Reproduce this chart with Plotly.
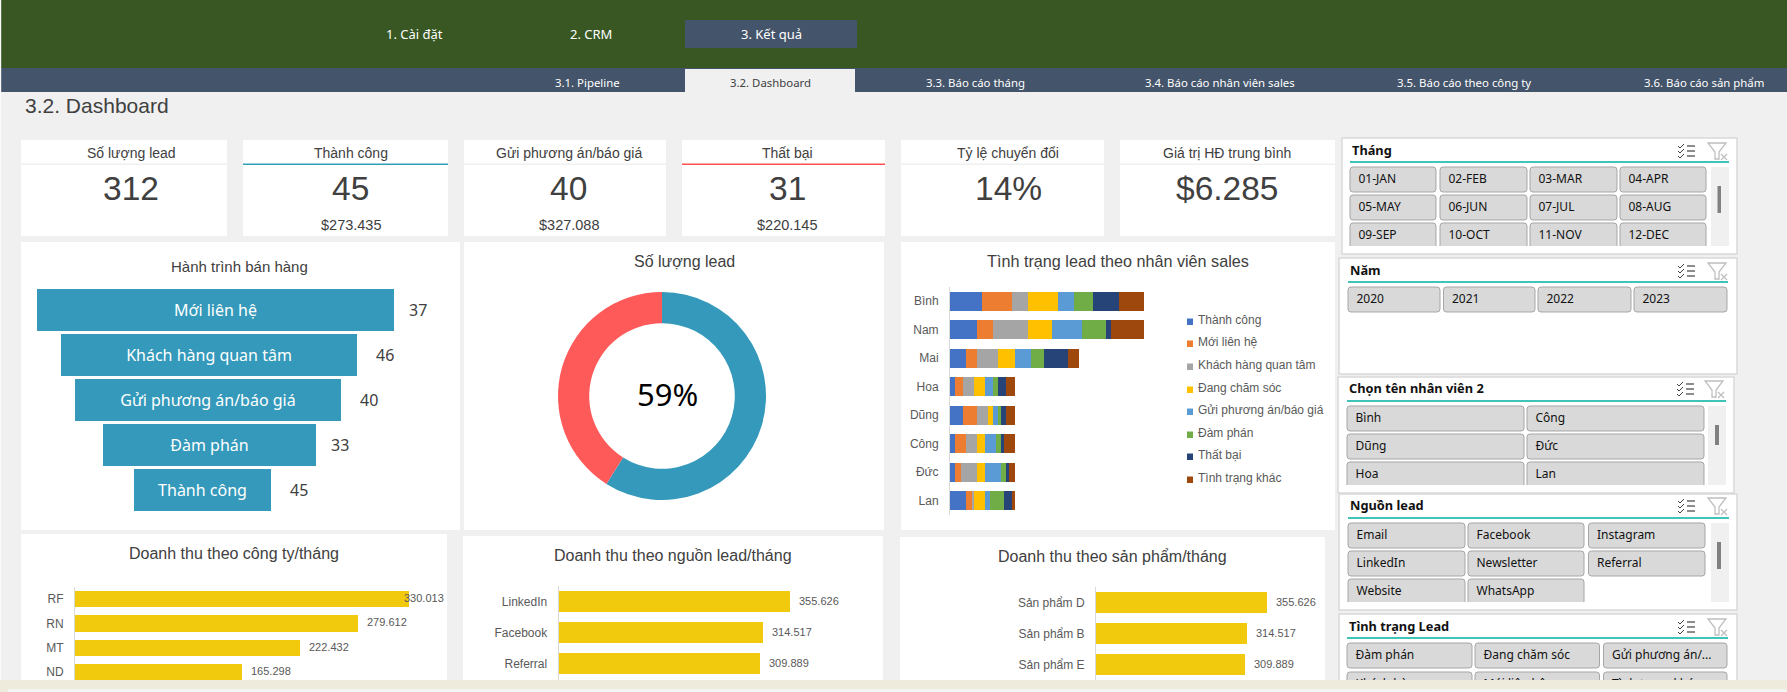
import plotly.graph_objects as go

W, H = 1787, 692

# ---------- data ----------
kpi_titles = ["Số lượng lead", "Thành công", "Gửi phương án/báo giá", "Thất bại", "Tỷ lệ chuyển đổi", "Giá trị HĐ trung bình"]
kpi_values = ["312", "45", "40", "31", "14%", "$6.285"]
kpi_subs = ["", "$273.435", "$327.088", "$220.145", "", ""]

funnel_stages = ["Mới liên hệ", "Khách hàng quan tâm", "Gửi phương án/báo giá", "Đàm phán", "Thành công"]
funnel_spacer = [0, 24, 38, 66, 97]
funnel_length = [357, 296, 266, 213, 137]
funnel_counts = [37, 46, 40, 33, 45]

donut_labels = ["Thành công", "Còn lại"]
donut_values = [184, 128]
donut_center = "59%"

staff = ["Bình", "Nam", "Mai", "Hoa", "Dũng", "Công", "Đức", "Lan"]
status_names = ["Thành công", "Mới liên hệ", "Khách hàng quan tâm", "Đang chăm sóc",
                "Gửi phương án/báo giá", "Đàm phán", "Thất bại", "Tình trạng khác"]
thanh_cong = [12, 10, 6, 2, 5, 2, 2, 6]
moi_lien_he = [11, 6, 4, 3, 5, 4, 2, 2]
khach_hang = [6, 13, 8, 4, 4, 4, 6, 1]
dang_cham_soc = [11, 9, 6, 4, 2, 3, 3, 4]
gui_phuong_an = [6, 11, 6, 3, 2, 4, 6, 2]
dam_phan = [7, 9, 5, 2, 1, 2, 2, 5]
that_bai = [10, 2, 9, 3, 2, 1, 1, 3]
tinh_trang_khac = [9, 12, 4, 3, 3, 4, 2, 1]
status_series = [thanh_cong, moi_lien_he, khach_hang, dang_cham_soc, gui_phuong_an, dam_phan, that_bai, tinh_trang_khac]

company_names = ["RF", "RN", "MT", "ND"]
company_revenue = [330013, 279612, 222432, 165298]
source_names = ["LinkedIn", "Facebook", "Referral"]
source_revenue = [355626, 314517, 309889]
product_names = ["Sản phẩm D", "Sản phẩm B", "Sản phẩm E"]
product_revenue = [355626, 314517, 309889]

months = ["01-JAN", "02-FEB", "03-MAR", "04-APR", "05-MAY", "06-JUN", "07-JUL", "08-AUG", "09-SEP", "10-OCT", "11-NOV", "12-DEC"]
years = ["2020", "2021", "2022", "2023"]
staff_sorted = ["Bình", "Công", "Dũng", "Đức", "Hoa", "Lan"]
sources = ["Email", "Facebook", "Instagram", "LinkedIn", "Newsletter", "Referral", "Website", "WhatsApp"]
statuses = ["Đàm phán", "Đang chăm sóc", "Gửi phương án/...", "Khách hàng...", "Mới liên hệ", "Tình trạng khác"]

# ---------- palette / fonts ----------
BG = "#F0F0F0"; GREEN = "#385723"; NAV = "#44546A"; TEAL = "#3499BA"; RED = "#FF5A5A"
YELLOW = "#F1C90D"; INK = "#404040"; AXT = "#595959"
SLICER_TEAL = "#00B0A0"
STATUS_COLORS = ["#4472C4", "#ED7D31", "#A5A5A5", "#FFC000", "#5B9BD5", "#70AD47", "#264478", "#9E480E"]
ARIAL = "Liberation Sans"; UI = "Noto Sans"

def X(p): return p / W
def Y(p): return 1 - p / H

shapes, annos = [], []

def rect(x0, y0, x1, y1, fill, line=None, lw=1, layer="below"):
    shapes.append(dict(type="rect", xref="paper", yref="paper", x0=X(x0), x1=X(x1), y0=Y(y1), y1=Y(y0),
                       fillcolor=fill, line=dict(color=line or "rgba(0,0,0,0)", width=lw if line else 0), layer=layer))

def path(points_d, line=None, lw=1, fill=None, layer="below"):
    shapes.append(dict(type="path", xref="paper", yref="paper", path=points_d, fillcolor=fill or "rgba(0,0,0,0)",
                       line=dict(color=line or "rgba(0,0,0,0)", width=lw), layer=layer))

def P(x, y): return f"{X(x):.6f},{Y(y):.6f}"

def text(x, y, s, size, color=INK, family=ARIAL, anchor="center", bold=False):
    annos.append(dict(xref="paper", yref="paper", x=X(x), y=Y(y), text=f"<b>{s}</b>" if bold else s, showarrow=False,
                      xanchor=anchor, yanchor="middle", font=dict(size=size, color=color, family=family)))

# ---------- header ----------
rect(0, 0, W, 68, GREEN)
rect(0, 68, W, 92, NAV)
rect(0, 0, 1.2, 692, "#FAFAFA", layer="above")
rect(685, 20, 857, 48, NAV)
rect(685, 69, 855, 92, BG)
for x, s in zip([414, 591, 771], ["1. Cài đặt", "2. CRM", "3. Kết quả"]):
    text(x, 34.5, s, 13, "white", UI)
for x, s, c in zip([587.5, 770, 975, 1220, 1464, 1704],
                   ["3.1. Pipeline", "3.2. Dashboard", "3.3. Báo cáo tháng", "3.4. Báo cáo nhân viên sales", "3.5. Báo cáo theo công ty", "3.6. Báo cáo sản phẩm"],
                   ["white", INK, "white", "white", "white", "white"]):
    text(x, 82.5, s, 11.4, c, UI)
text(23, 105, "3.2. Dashboard", 21, INK, ARIAL, anchor="left")

# ---------- KPI cards ----------
card_x = [(21, 227), (243, 448), (464, 666), (682, 885), (901, 1104), (1120, 1335)]
card_text_x = [131, 350.5, 568.5, 787, 1008, 1227]
card_line = [BG, "#2F9FB8", BG, "#FF5050", BG, BG]
for (x0, x1), xc, t, v, s, lc in zip(card_x, card_text_x, kpi_titles, kpi_values, kpi_subs, card_line):
    rect(x0, 140, x1, 236, "white")
    rect(x0, 163.5, x1, 165, lc)
    text(xc, 153, t, 14, INK)
    text(xc, 188.5, v, 33.5, INK)
    if s:
        text(xc, 225, s, 14.5, INK)

# ---------- panels ----------
rect(21, 242, 460, 530, "white")
rect(464, 242, 884, 530, "white")
rect(901, 242, 1335, 530, "white")
rect(21, 534, 447, 692, "white")
rect(463, 536, 883, 692, "white")
rect(900, 537, 1325, 692, "white")

text(240, 266, "Hành trình bán hàng", 15)
text(684, 261, "Số lượng lead", 16)
text(1118, 261, "Tình trạng lead theo nhân viên sales", 16.2)
text(234, 553, "Doanh thu theo công ty/tháng", 16)
text(673, 555, "Doanh thu theo nguồn lead/tháng", 16)
text(1112, 556, "Doanh thu theo sản phẩm/tháng", 16)

# ---------- figure and axes ----------
fig = go.Figure()
layout_axes = {}

def axes(n, x0, x1, y0, y1, xrange, yrange, show_y=True, yfont=12):
    sx = "" if n == 1 else str(n)
    layout_axes[f"xaxis{sx}"] = dict(domain=[X(x0), X(x1)], range=xrange, visible=False, anchor=f"y{sx}", fixedrange=True)
    ya = dict(domain=[Y(y1), Y(y0)], range=yrange, anchor=f"x{sx}", type="category", fixedrange=True,
              showgrid=False, zeroline=False)
    if show_y:
        ya.update(showline=True, linecolor="#D9D9D9", linewidth=1, ticks="outside", ticklen=8,
                  tickcolor="rgba(0,0,0,0)", tickfont=dict(size=yfont, color=AXT, family=ARIAL))
    else:
        ya.update(visible=False)
    layout_axes[f"yaxis{sx}"] = ya
    return f"x{sx}", f"y{sx}"

# funnel
xa, ya = axes(1, 37, 437, 287.5, 512.5, [0, 400], [4.5, -0.5], show_y=False)
fig.add_trace(go.Bar(y=funnel_stages, x=funnel_length, base=funnel_spacer, orientation="h", width=0.934,
                     marker=dict(color=TEAL, line=dict(width=0)), text=funnel_stages, textposition="inside",
                     insidetextanchor="middle", textangle=0,
                     insidetextfont=dict(size=16, color="white", family=UI), showlegend=False, xaxis=xa, yaxis=ya,
                     hoverinfo="skip"))
for st, sp, ln, ct, sh in zip(funnel_stages, funnel_spacer, funnel_length, funnel_counts, [13, 17, 17, 13, 17]):
    annos.append(dict(xref=xa, yref=ya, x=sp + ln, y=st, text=str(ct), showarrow=False, xanchor="left", xshift=sh,
                      font=dict(size=16, color=INK, family=UI)))

# donut
fig.add_trace(go.Pie(labels=donut_labels, values=donut_values, hole=0.70, sort=False, direction="clockwise", rotation=0,
                     marker=dict(colors=[TEAL, RED], line=dict(width=0)), textinfo="none", showlegend=False,
                     domain=dict(x=[X(558), X(766)], y=[Y(500), Y(292)]), hoverinfo="skip"))
text(667, 394, donut_center, 31, "black", UI)

# stacked status bars
PX_PER_LEAD = 2.69
xa, ya = axes(2, 950, 950 + 76 * PX_PER_LEAD, 287, 515, [0, 76], [7.5, -0.5])
for name, series, color in zip(status_names, status_series, STATUS_COLORS):
    fig.add_trace(go.Bar(y=staff, x=series, name=name, orientation="h", width=0.667, marker=dict(color=color, line=dict(width=0)),
                         showlegend=False, xaxis=xa, yaxis=ya, hoverinfo="skip"))
for name, color, yc in zip(status_names, STATUS_COLORS, [321, 343, 366, 389, 411, 434, 456, 479]):
    rect(1187, yc - 2.5, 1193, yc + 4, color)
    text(1196, yc - 1, name, 12, AXT, ARIAL, anchor="left")

# revenue bars
def revenue(n, names, values, axis_x, top, slot, ppu, rmax, labelshift):
    bottom = H
    nslots = (bottom - top) / slot
    xa, ya = axes(n, axis_x, axis_x + rmax * ppu, top, bottom, [0, rmax], [nslots - 0.5, -0.5])
    fig.add_trace(go.Bar(y=names, x=values, orientation="h", width=0.67, marker=dict(color=YELLOW, line=dict(width=0)),
                         showlegend=False, xaxis=xa, yaxis=ya, hoverinfo="skip"))
    for nm, v, sh in zip(names, values, labelshift):
        annos.append(dict(xref=xa, yref=ya, x=v, y=nm, text=f"{v:,}".replace(",", "."), showarrow=False, xanchor="left",
                          xshift=sh, yshift=1, font=dict(size=11, color=AXT, family=ARIAL)))

revenue(3, company_names, company_revenue, 75, 587, 24.3, 334 / 330013, 360000, [-7, 7, 7, 7])
revenue(4, source_names, source_revenue, 558.6, 586, 31, 231.4 / 355626, 440000, [7, 7, 7])
revenue(5, product_names, product_revenue, 1096, 587, 31, 171 / 355626, 440000, [7, 7, 7])

# ---------- slicers ----------
slice_x, slice_y, slice_t = [], [], []

def button(x0, y0, x1, y1, label, clipped=False):
    r = 3
    d = f"M{P(x0, y1 if clipped else y1 - r)} L{P(x0, y0 + r)} Q{P(x0, y0)} {P(x0 + r, y0)} L{P(x1 - r, y0)} Q{P(x1, y0)} {P(x1, y0 + r)} L{P(x1, y1 if clipped else y1 - r)}"
    if not clipped:
        d += f" Q{P(x1, y1)} {P(x1 - r, y1)} L{P(x0 + r, y1)} Q{P(x0, y1)} {P(x0, y1 - r)} Z"
    path(d, line="#A6A6A6", lw=1, fill="#D9D9D9")
    slice_x.append(x0 + 8.5); slice_y.append((y0 + y0 + 25) / 2); slice_t.append(label)

def icons(yc, xlist, xfilter):
    for dy in (-5, 0, 5):
        path(f"M{P(xlist, yc + dy)} L{P(xlist + 2, yc + dy + 2)} L{P(xlist + 6, yc + dy - 2)}", line="#404040", lw=1)
        path(f"M{P(xlist + 9, yc + dy)} L{P(xlist + 17, yc + dy)}", line="#404040", lw=1.2)
    f = xfilter
    path(f"M{P(f, yc - 8)} L{P(f + 18, yc - 8)} L{P(f + 11, yc + 1)} L{P(f + 11, yc + 8)} L{P(f + 7, yc + 8)} L{P(f + 7, yc + 1)} Z", line="#BFBFBF", lw=1.3)
    path(f"M{P(f + 13, yc + 3)} L{P(f + 19, yc + 9)} M{P(f + 19, yc + 3)} L{P(f + 13, yc + 9)}", line="#BFBFBF", lw=1.3)

def slicer(px0, py0, px1, py1, title, tx, tline_r, ty, tline_y, columns, rows_y, bottom, labels, scroll=None):
    rect(px0, py0, px1, py1, "white", line="#D9D9D9", lw=1.5)
    text(tx, ty - 1, title, 12.8, "#111111", UI, anchor="left", bold=True)
    rect(tx, tline_y - 0.7, tline_r, tline_y + 0.7, SLICER_TEAL)
    icons(ty, px1 - 59 if px1 > 1735 else px1 - 57, px1 - 29)
    idx = 0
    for r, ry in enumerate(rows_y):
        for (cx0, cx1) in columns:
            if idx >= len(labels):
                break
            y1 = ry + 25
            clipped = y1 > bottom
            button(cx0, ry, cx1, min(y1, bottom), labels[idx], clipped)
            idx += 1
    if scroll:
        sx0, sx1, sy0, sy1, tx0, tx1, ty0, ty1 = scroll
        rect(sx0, sy0, sx1, sy1, "#F0F0F0")
        rect(tx0, ty0, tx1, ty1, "#808080")

slicer(1342, 138, 1737, 254, "Tháng", 1350, 1729, 151, 162,
       [(1350, 1436), (1440, 1527), (1530, 1617), (1620, 1706)], [167, 195, 223], 246, months,
       scroll=(1711, 1729, 167, 246, 1717.5, 1721, 186, 213))
slicer(1339, 258, 1737, 374, "Năm", 1348, 1728, 271, 282,
       [(1348, 1440), (1443.5, 1535), (1538, 1631), (1634, 1727)], [287], 374, years)
slicer(1338, 377, 1734, 493, "Chọn tên nhân viên 2", 1347, 1726, 389, 401,
       [(1347, 1524), (1527, 1704)], [406, 434, 462], 485, staff_sorted,
       scroll=(1708, 1726, 406, 485, 1715, 1719, 425, 445))
slicer(1339, 494, 1737, 610, "Nguồn lead", 1348, 1729, 506, 518,
       [(1348, 1465), (1468, 1584), (1588.5, 1705)], [523, 551, 579], 602, sources,
       scroll=(1711, 1729, 523, 602, 1717, 1721, 542, 569))
slicer(1339, 614, 1737, 692, "Tình trạng Lead", 1347, 1728, 627, 638,
       [(1347, 1472), (1475, 1599.5), (1603.5, 1727)], [643, 672], 692, statuses)

# overlay axes carrying the slicer button labels (under the bottom bar)
layout_axes["xaxis6"] = dict(domain=[0, 1], range=[0, W], visible=False, anchor="y6", fixedrange=True)
layout_axes["yaxis6"] = dict(domain=[0, 1], range=[H, 0], visible=False, anchor="x6", fixedrange=True)
fig.add_trace(go.Scatter(x=slice_x, y=slice_y, text=slice_t, mode="text", textposition="middle right",
                         textfont=dict(size=12, color="#111111", family=UI), xaxis="x6", yaxis="y6",
                         showlegend=False, hoverinfo="skip"))

# ---------- bottom status strip ----------
rect(0, 680, W, 692, "#EFEBDC", layer="above")
rect(8, 689, W, 692, "#F4F4F2", layer="above")

fig.update_layout(width=W, height=H, margin=dict(l=0, r=0, t=0, b=0), autosize=False,
                  paper_bgcolor=BG, plot_bgcolor="rgba(0,0,0,0)", barmode="stack", showlegend=False,
                  shapes=shapes, annotations=annos, hovermode=False, **layout_axes)

fig.write_html("out.html", config=dict(displayModeBar=False),
               post_script="document.body.style.margin='0';document.body.style.overflow='hidden';")
